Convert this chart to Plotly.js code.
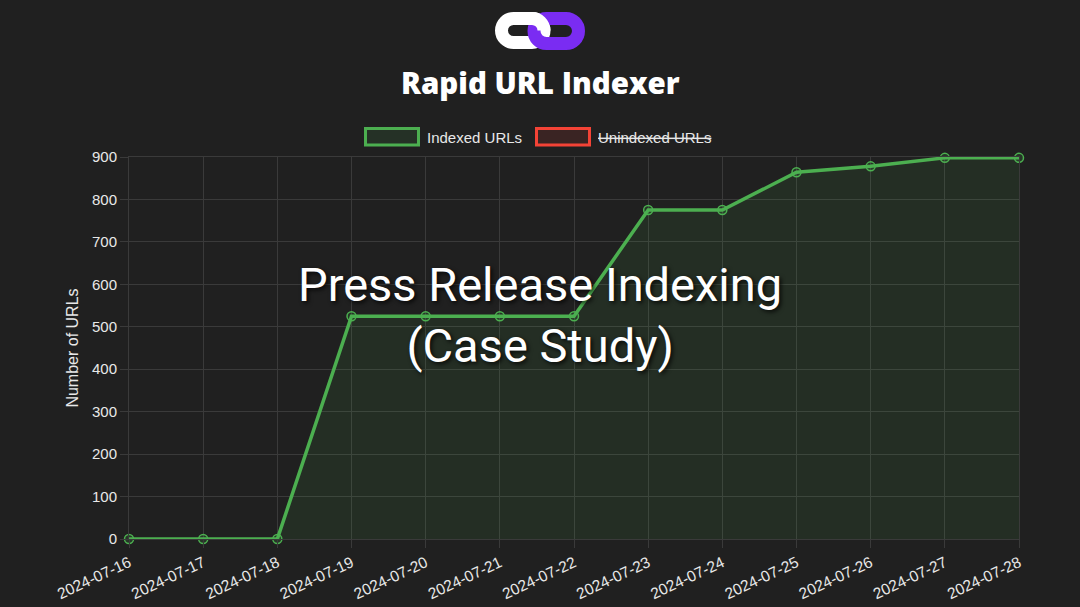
<!DOCTYPE html>
<html>
<head>
<meta charset="utf-8">
<script src="https://cdn.plot.ly/plotly-3.0.1.min.js"></script>
<style>
  html, body { margin: 0; padding: 0; background: #202020; }
  #chart { width: 1080px; height: 607px; }
</style>
</head>
<body>
<div id="chart"></div>
<script>
// Daily count of indexed press release URLs
const dates = [
  '2024-07-16', '2024-07-17', '2024-07-18', '2024-07-19', '2024-07-20',
  '2024-07-21', '2024-07-22', '2024-07-23', '2024-07-24', '2024-07-25',
  '2024-07-26', '2024-07-27', '2024-07-28'
];
const indexedUrls = [0, 0, 0, 525, 525, 525, 525, 775, 775, 864, 878, 898, 898];
const yTicks = [0, 100, 200, 300, 400, 500, 600, 700, 800, 900];
const legendNames = ['Indexed URLs', 'Unindexed URLs'];

// Page geometry (pixels) used to place logo and legend in paper space
const W = 1080, H = 607;
const M = { l: 129, r: 61, t: 157, b: 68 };
const PW = W - M.l - M.r, PH = H - M.t - M.b;
const px = x => (x - M.l) / PW;
const py = y => (H - M.b - y) / PH;
const pt = (x, y) => px(x) + ',' + py(y);

// Rounded "chain link" outline as a path in paper coordinates
function stadium(x0, y0, x1, y1) {
  const r = (y1 - y0) / 2, k = 0.5523 * r;
  return 'M' + pt(x0 + r, y0) +
    ' L' + pt(x1 - r, y0) +
    ' C' + pt(x1 - r + k, y0) + ' ' + pt(x1, y0 + r - k) + ' ' + pt(x1, y0 + r) +
    ' C' + pt(x1, y0 + r + k) + ' ' + pt(x1 - r + k, y1) + ' ' + pt(x1 - r, y1) +
    ' L' + pt(x0 + r, y1) +
    ' C' + pt(x0 + r - k, y1) + ' ' + pt(x0, y0 + r + k) + ' ' + pt(x0, y0 + r) +
    ' C' + pt(x0, y0 + r - k) + ' ' + pt(x0 + r - k, y0) + ' ' + pt(x0 + r, y0) + ' Z';
}
// top bar and upper-right bend of a link, laid over its neighbour
function upperRight(x0, y0, x1, y1) {
  const r = (y1 - y0) / 2, k = 0.5523 * r;
  return 'M' + pt(x0 + r + 8, y0) +
    ' L' + pt(x1 - r, y0) +
    ' C' + pt(x1 - r + k, y0) + ' ' + pt(x1, y0 + r - k) + ' ' + pt(x1, y0 + r);
}

const GREEN = '#4caf50', RED = '#f44336', PURPLE = '#7a2cf2';
const GRID = '#3a3a3a', TXT = '#e8e8e8';

const trace = {
  x: dates,
  y: indexedUrls,
  name: legendNames[0],
  type: 'scatter',
  mode: 'lines+markers',
  line: { color: GREEN, width: 3.5 },
  marker: { size: 9, color: 'rgba(76,175,80,0.15)', line: { color: GREEN, width: 1.5 } },
  fill: 'tozeroy',
  fillcolor: 'rgba(76,175,80,0.1)',
  cliponaxis: false,
  hoverinfo: 'x+y'
};

const shapes = [
  // logo
  { type: 'path', xref: 'paper', yref: 'paper', path: stadium(501.5, 18.5, 544, 42.5), line: { color: '#ffffff', width: 13 } },
  { type: 'path', xref: 'paper', yref: 'paper', path: stadium(534, 18.5, 578.5, 43.5), line: { color: PURPLE, width: 13 } },
  { type: 'path', xref: 'paper', yref: 'paper', path: upperRight(501.5, 18.5, 544, 42.5), line: { color: '#ffffff', width: 13 } },
  // legend swatches
  { type: 'rect', xref: 'paper', yref: 'paper', x0: px(365.5), x1: px(418.5), y0: py(128.5), y1: py(145),
    line: { color: GREEN, width: 3 }, fillcolor: 'rgba(76,175,80,0.12)' },
  { type: 'rect', xref: 'paper', yref: 'paper', x0: px(536.5), x1: px(589.5), y0: py(128.5), y1: py(145),
    line: { color: RED, width: 3 }, fillcolor: 'rgba(244,67,54,0.12)' }
];

const annotations = [
  { xref: 'paper', yref: 'paper', x: px(540), y: py(82), xanchor: 'center', yanchor: 'middle',
    text: 'Rapid URL Indexer', showarrow: false,
    font: { family: 'Open Sans, sans-serif', size: 29.5, color: '#ffffff', weight: 800 } },
  { xref: 'paper', yref: 'paper', x: px(425), y: py(137), xanchor: 'left', yanchor: 'middle',
    text: legendNames[0], showarrow: false,
    font: { family: 'Liberation Sans, Arial, sans-serif', size: 15, color: TXT } },
  { xref: 'paper', yref: 'paper', x: px(596), y: py(137), xanchor: 'left', yanchor: 'middle',
    text: legendNames[1], showarrow: false,
    font: { family: 'Liberation Sans, Arial, sans-serif', size: 15, color: TXT, lineposition: 'through' } },
  { xref: 'paper', yref: 'paper', x: px(540), y: py(315), xanchor: 'center', yanchor: 'middle',
    text: 'Press Release Indexing<br>(Case Study)', showarrow: false,
    font: { family: 'Roboto, sans-serif', size: 47, color: '#ffffff', shadow: '2px 2px 4px rgba(0,0,0,0.8)' } }
];

const layout = {
  width: W, height: H,
  paper_bgcolor: '#202020', plot_bgcolor: '#202020',
  margin: M,
  showlegend: false,
  font: { family: 'Liberation Sans, Arial, sans-serif', size: 15, color: TXT },
  xaxis: {
    type: 'category', range: [0, dates.length - 1],
    showgrid: true, gridcolor: GRID, gridwidth: 1,
    showline: true, linecolor: GRID, linewidth: 1, mirror: true,
    ticks: 'outside', ticklen: 8, tickcolor: GRID,
    tickangle: -25, tickfont: { size: 15.5, color: TXT },
    zeroline: false, fixedrange: true
  },
  yaxis: {
    range: [0, 900], tickvals: yTicks,
    showgrid: true, gridcolor: GRID, gridwidth: 1,
    showline: true, linecolor: GRID, linewidth: 1, mirror: true,
    ticks: 'outside', ticklen: 8, tickcolor: GRID,
    tickfont: { size: 15, color: TXT },
    zeroline: false, fixedrange: true,
    title: { text: 'Number of URLs', font: { size: 16, color: TXT }, standoff: 9 }
  },
  shapes: shapes,
  annotations: annotations
};

Plotly.newPlot('chart', [trace], layout, { displayModeBar: false, staticPlot: true });
</script>
</body>
</html>
